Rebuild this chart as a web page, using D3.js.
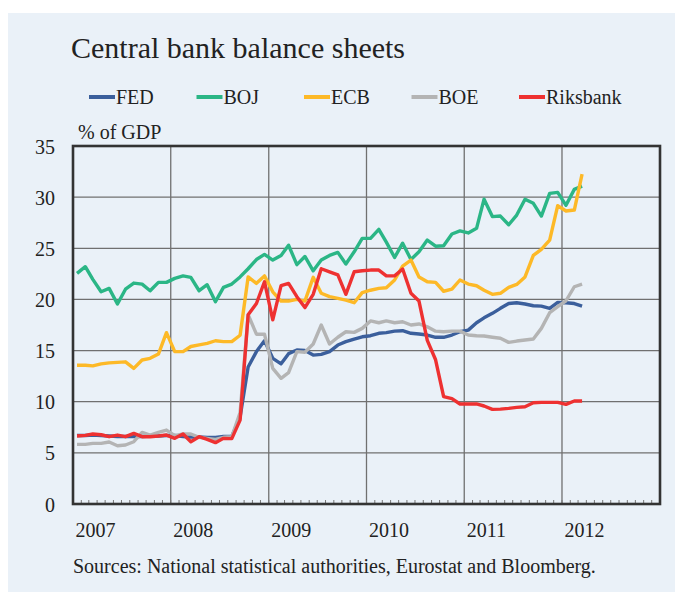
<!DOCTYPE html>
<html><head><meta charset="utf-8">
<script src="https://cdn.jsdelivr.net/npm/d3@7"></script>
<style>
html,body{margin:0;padding:0;background:#fff;}
svg{display:block;font-family:"Liberation Serif","Times New Roman",serif;}
</style></head>
<body>
<script>
// ---- data (monthly, % of GDP), Jan 2007 .. Mar 2012 ----
const startYear = 2007;
const seriesNames = ["FED","BOJ","ECB","BOE","Riksbank"];
const FED = [6.7,6.7,6.75,6.7,6.65,6.6,6.6,6.6,6.6,6.65,6.65,6.7,6.7,6.6,6.55,6.55,6.5,6.5,6.6,6.6,
  8.5,13.4,14.9,15.96,14.24,13.7,14.7,15.05,15.0,14.56,14.63,14.9,15.54,15.87,16.13,16.35,16.45,16.69,16.75,16.9,
  16.94,16.69,16.62,16.52,16.3,16.3,16.52,16.84,17.0,17.72,18.2,18.64,19.13,19.6,19.68,19.55,19.38,19.35,19.13,19.7,
  19.68,19.6,19.35];
const BOJ = [22.55,23.2,21.96,20.75,21.08,19.55,21.0,21.6,21.5,20.85,21.67,21.67,22.06,22.3,22.16,20.85,21.44,19.78,21.18,21.5,
  22.2,23.0,23.9,24.4,23.85,24.3,25.3,23.4,24.2,22.8,23.85,24.3,24.6,23.46,24.66,25.97,25.97,26.85,25.6,24.1,
  25.5,23.9,24.66,25.8,25.2,25.25,26.4,26.7,26.5,26.95,29.8,28.1,28.15,27.3,28.25,29.8,29.4,28.15,30.37,30.47,
  29.2,30.76,31.08];
const ECB = [13.56,13.56,13.5,13.7,13.8,13.85,13.9,13.26,14.08,14.24,14.66,16.75,14.9,14.9,15.4,15.55,15.7,15.96,15.87,15.87,
  16.5,22.2,21.57,22.3,20.75,19.84,19.84,20.0,19.84,22.16,20.6,20.27,20.1,19.94,19.68,20.66,20.9,21.08,21.14,21.9,
  23.26,23.85,22.2,21.73,21.67,20.8,21.0,21.9,21.5,21.34,20.9,20.5,20.6,21.18,21.47,22.2,24.3,24.9,25.8,29.16,
  28.64,28.74,32.26];
const BOE = [5.83,5.83,5.93,5.93,6.06,5.7,5.77,6.09,7.0,6.74,7.0,7.23,6.68,6.84,6.84,6.52,6.42,6.32,6.52,6.58,
  8.93,18.5,16.6,16.6,13.26,12.29,12.84,14.9,14.83,15.64,17.5,15.64,16.3,16.84,16.78,17.17,17.9,17.72,17.9,17.72,
  17.82,17.5,17.6,17.33,16.9,16.84,16.9,16.9,16.52,16.45,16.42,16.3,16.2,15.8,15.93,16.03,16.13,17.17,18.7,19.29,
  19.87,21.24,21.5];
const Riksbank = [6.65,6.71,6.84,6.77,6.58,6.74,6.58,6.9,6.58,6.58,6.65,6.74,6.42,6.84,6.09,6.58,6.32,6.0,6.42,6.39,
  8.2,18.5,19.6,21.73,18.0,21.34,21.57,20.27,19.2,20.5,23.0,22.7,22.4,20.5,22.7,22.8,22.87,22.87,22.3,22.3,
  22.97,20.6,19.84,16.0,14.1,10.5,10.3,9.78,9.78,9.78,9.58,9.25,9.28,9.35,9.45,9.51,9.9,9.94,9.94,9.94,
  9.74,10.07,10.07];
const yTicks = [0,5,10,15,20,25,30,35];
const yearLabels = ["2007","2008","2009","2010","2011","2012"];
const colors = {FED:"#3b5f9c",BOJ:"#2bb686",ECB:"#fdb927",BOE:"#b4b4b4",Riksbank:"#ee3131"};

const W = 675, H = 595;
const svg = d3.select("body").append("svg").attr("width",W).attr("height",H);
svg.append("rect").attr("x",8).attr("y",13).attr("width",W-8).attr("height",579).attr("fill","#eaf1f8");

const L=73,R=660,T=146,B=504;
const x = d3.scaleTime().domain([new Date(2007,0,1), new Date(2013,0,1)]).range([L,R]);
const y = d3.scaleLinear().domain([0,35]).range([B,T]);
const dateOf = i => new Date(startYear, i, 16);

// grid
const g = svg.append("g");
g.selectAll(".hg").data(yTicks.filter(v=>v>0&&v<35)).join("line")
  .attr("x1",L).attr("x2",R).attr("y1",d=>y(d)).attr("y2",d=>y(d))
  .attr("stroke","#707070").attr("stroke-width",1.3);
const yearDates = d3.range(2008,2013).map(yy=>new Date(yy,0,1));
g.selectAll(".vg").data(yearDates).join("line")
  .attr("x1",d=>x(d)).attr("x2",d=>x(d)).attr("y1",T).attr("y2",B)
  .attr("stroke","#707070").attr("stroke-width",1.3);
// monthly ticks
const monthDates = d3.timeMonth.range(new Date(2007,1,1), new Date(2013,0,1));
g.selectAll(".mt").data(monthDates).join("line")
  .attr("x1",d=>x(d)).attr("x2",d=>x(d)).attr("y1",B).attr("y2",B-4)
  .attr("stroke","#777").attr("stroke-width",1);

// lines
const line = d3.line().x((d,i)=>x(dateOf(i))).y(d=>y(d));
const drawOrder = [["FED",FED],["BOE",BOE],["BOJ",BOJ],["ECB",ECB],["Riksbank",Riksbank]];
drawOrder.forEach(([name,vals])=>{
  svg.append("path").datum(vals).attr("d",line).attr("fill","none")
    .attr("stroke",colors[name]).attr("stroke-width",3.4).attr("stroke-linejoin","round");
});

// frame
svg.append("rect").attr("x",L).attr("y",T).attr("width",R-L).attr("height",B-T)
  .attr("fill","none").attr("stroke","#333").attr("stroke-width",2.6);

// axes
const yAxis = d3.axisLeft(y).tickValues(yTicks).tickSize(0).tickPadding(18);
const ya = svg.append("g").attr("transform",`translate(${L},0)`).call(yAxis);
ya.select(".domain").remove();
ya.selectAll("text").attr("font-size",20).attr("fill","#222").attr("font-family","Liberation Serif").attr("dy","0.35em");

const xAxis = d3.axisBottom(x).tickValues(yearLabels.map(s=>new Date(+s,0,1))).tickSize(0)
  .tickFormat(d=>String(d.getFullYear()));
const xa = svg.append("g").attr("transform",`translate(0,${B})`).call(xAxis);
xa.select(".domain").remove();
xa.selectAll("text").attr("font-size",20).attr("fill","#222").attr("font-family","Liberation Serif")
  .attr("text-anchor","start").attr("x",2).attr("y",33).attr("dy",0);

// texts
svg.append("text").attr("x",71).attr("y",58).attr("font-size",30).attr("fill","#222").text("Central bank balance sheets");
svg.append("text").attr("x",78).attr("y",139).attr("font-size",20).attr("fill","#222").text("% of GDP");
svg.append("text").attr("x",73).attr("y",573).attr("font-size",20).attr("fill","#222")
  .text("Sources: National statistical authorities, Eurostat and Bloomberg.");

// legend
const lg = svg.append("g");
seriesNames.forEach((n,i)=>{
  const lx = 89 + i*107.5;
  lg.append("line").attr("x1",lx).attr("x2",lx+26).attr("y1",97).attr("y2",97)
    .attr("stroke",colors[n]).attr("stroke-width",4);
  lg.append("text").attr("x",lx+27).attr("y",104).attr("font-size",20).attr("fill","#222").text(n);
});
</script>
</body></html>
